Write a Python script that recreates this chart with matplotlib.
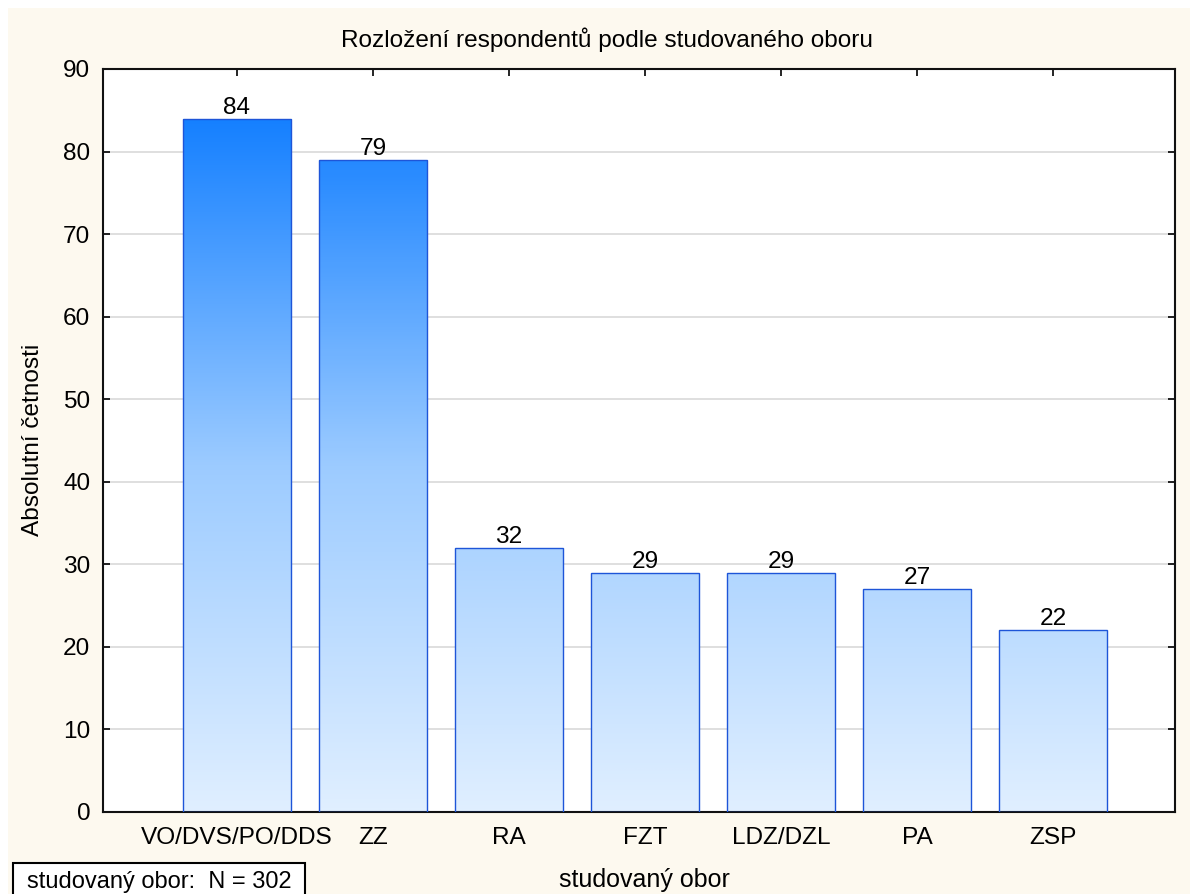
import numpy as np
import matplotlib
matplotlib.use("Agg")
import matplotlib.pyplot as plt
from matplotlib.patches import Rectangle
from matplotlib.colors import LinearSegmentedColormap

categories = ["VO/DVS/PO/DDS", "ZZ", "RA", "FZT", "LDZ/DZL", "PA", "ZSP"]
counts = [84, 79, 32, 29, 29, 27, 22]
title = "Rozložení respondentů podle studovaného oboru"
xlabel = "studovaný obor"
ylabel = "Absolutní četnosti"
note = "studovaný obor:  N = 302"
yticks = [0, 10, 20, 30, 40, 50, 60, 70, 80, 90]

plt.rcParams['font.family'] = ['Liberation Sans', 'DejaVu Sans']

W, H = 1190, 894
fig = plt.figure(figsize=(W / 100, H / 100), dpi=100)
fig.patch.set_facecolor('white')
fig.patches.append(Rectangle((8 / W, 0), 1 - 8 / W, 1 - 8 / H, transform=fig.transFigure,
                             facecolor='#FDF9EF', edgecolor='none', zorder=-10))

ax = fig.add_axes([103 / W, 1 - 812 / H, (1175 - 103) / W, (812 - 69) / H])
ax.set_facecolor('white')

FS = 17.6
cmap = LinearSegmentedColormap.from_list('grad', ['#E0EFFF', '#9CCBFF', '#1580FF'])
x = np.arange(len(categories))
width = 0.8
vmax = max(counts)
bars = ax.bar(x, counts, width=width, facecolor='none', edgecolor='#1E55D8', linewidth=1.0, zorder=3)
grad = np.linspace(0, 1, 256).reshape(-1, 1)
for b, c in zip(bars, counts):
    x0 = b.get_x()
    im = ax.imshow(grad * c / vmax, extent=(x0, x0 + width, 0, c), origin='lower',
                   cmap=cmap, vmin=0, vmax=1, aspect='auto', zorder=2, interpolation='bilinear')
    im.set_clip_path(b)
    ax.text(x0 + width / 2, c, str(c), ha='center', va='bottom', fontsize=FS, zorder=4)

ax.set_xlim(-0.985, 6.897)
ax.set_ylim(0, 90)
ax.set_yticks(yticks)
ax.set_xticks(x)
ax.set_xticklabels(categories)
ax.tick_params(axis='both', direction='in', length=5, width=1.2, labelsize=FS,
               top=True, right=True)
ax.tick_params(axis='y', pad=9)
ax.tick_params(axis='x', pad=11)
ax.yaxis.grid(True, color='#D9D9D9', linewidth=1.2, zorder=0)
ax.set_axisbelow(True)
for s in ax.spines.values():
    s.set_linewidth(1.5)
    s.set_color('#111111')

fig.text(607 / W, 1 - 47 / H, title, ha='center', va='baseline', fontsize=FS)
fig.text(644 / W, 1 - 887 / H, xlabel, ha='center', va='baseline', fontsize=18)
fig.text(33 / W, 1 - 440 / H, ylabel, ha='center', va='center', rotation=90, fontsize=FS)

fig.patches.append(Rectangle((13 / W, -0.01), (305 - 13) / W, 0.01 + (894 - 863) / H,
                             transform=fig.transFigure, facecolor='white', edgecolor='black',
                             linewidth=1.5, zorder=5))
fig.text(27 / W, 1 - 888 / H, note, ha='left', va='baseline', fontsize=17, zorder=6)

fig.savefig('out.png', dpi=100)
